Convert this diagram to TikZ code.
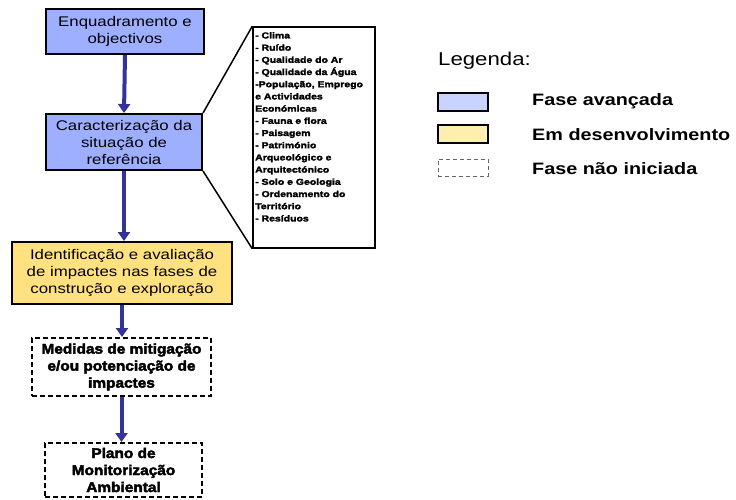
\documentclass[tikz,border=0pt]{standalone}
\usepackage{fontspec}
\setmainfont{Liberation Sans}[FakeStretch=1.2]
\newfontface\heavyfont{Liberation Sans Bold}[FakeStretch=1.1,FakeBold=3]
\newfontface\tinyheavy{Liberation Sans Bold}[FakeStretch=1.22,FakeBold=2.5]
\newfontface\legbold{Liberation Sans Bold}[FakeStretch=1.2]
\usetikzlibrary{arrows.meta}
\definecolor{boxblue}{HTML}{9EAFFF}
\definecolor{boxyellow}{HTML}{FFE27F}
\definecolor{legblue}{HTML}{C8D4FF}
\definecolor{legyellow}{HTML}{FFEFAE}
\definecolor{arrowblue}{HTML}{333399}
\begin{document}
\begin{tikzpicture}[x=1pt,y=-1pt,
  solidbox/.style={draw=black,line width=2pt,align=center,inner sep=0pt,
    font=\fontsize{14}{17}\selectfont},
  dashbox/.style={draw=black,line width=2pt,dash pattern=on 5pt off 3pt,align=center,inner sep=0pt,
    font=\heavyfont\fontsize{14}{17}\selectfont},
  flow/.style={draw=arrowblue,line width=4pt,-{Triangle[width=12pt,length=9pt]}},
  bracketline/.style={draw=black,line width=1.5pt},
  legrect/.style={draw=black,line width=2pt},
  legtext/.style={anchor=base west,inner sep=0pt,font=\legbold\fontsize{16.5}{20}\selectfont}
]
\useasboundingbox (0,0) rectangle (736,500);

\node[solidbox,fill=boxblue,minimum width=158pt,minimum height=45pt] (b1) at (125,31.5)
  {Enquadramento e\\objectivos};
\node[solidbox,fill=boxblue,minimum width=156pt,minimum height=56pt] (b2) at (124,142)
  {Caracterização da\\situação de\\referência};
\node[solidbox,fill=boxyellow,minimum width=220pt,minimum height=62pt] (b3) at (122,273)
  {Identificação e avaliação\\de impactes nas fases de\\construção e exploração};
\node[dashbox,minimum width=179pt,minimum height=58pt] (b4) at (121.5,367)
  {Medidas de mitigação\\e/ou potenciação de\\impactes};
\node[dashbox,minimum width=157pt,minimum height=54pt] (b5) at (123.5,470)
  {Plano de\\Monitorização\\Ambiental};

\draw[flow] (b1.south) -- (b2.north);
\draw[flow] (b2.south) -- (b2.south |- b3.north);
\draw[flow] (b3.south) -- (b3.south |- b4.north);
\draw[flow] (b4.south) -- (b4.south |- b5.north);

\node[draw=black,line width=1.5pt,minimum width=122pt,minimum height=221pt,inner sep=0pt] (br) at (314,137.5) {};
\node[anchor=north west,inner sep=0pt,align=left,text width=118pt,
  font=\tinyheavy\fontsize{8.6}{12.2}\selectfont] (brtext) at (255,32)
  {- Clima\\- Ruído\\- Qualidade do Ar\\- Qualidade da Água\\-População, Emprego\\e Actividades\\Económicas\\- Fauna e flora\\- Paisagem\\- Património\\Arqueológico e\\Arquitectónico\\- Solo e Geologia\\- Ordenamento do\\Território\\- Resíduos};
\draw[bracketline] (b2.north east) -- (br.north west);
\draw[bracketline] (b2.south east) -- (br.south west);

\node[anchor=base west,inner sep=0pt,font=\fontsize{18.5}{22}\selectfont] (leg) at (438,66) {Legenda:};
\node[legrect,fill=legblue,minimum width=50pt,minimum height=18pt,inner sep=0pt] (l1) at (463,102) {};
\node[legrect,fill=legyellow,minimum width=50pt,minimum height=18pt,inner sep=0pt] (l2) at (463,134) {};
\node[draw=gray!80!black,line width=1pt,dash pattern=on 4pt off 3pt,minimum width=50pt,minimum height=17pt,inner sep=0pt] (l3) at (463,167.5) {};
\node[legtext] (t1) at (532,106) {Fase avançada};
\node[legtext] (t2) at (532,140) {Em desenvolvimento};
\node[legtext] (t3) at (532,174) {Fase não iniciada};
\end{tikzpicture}
\end{document}
